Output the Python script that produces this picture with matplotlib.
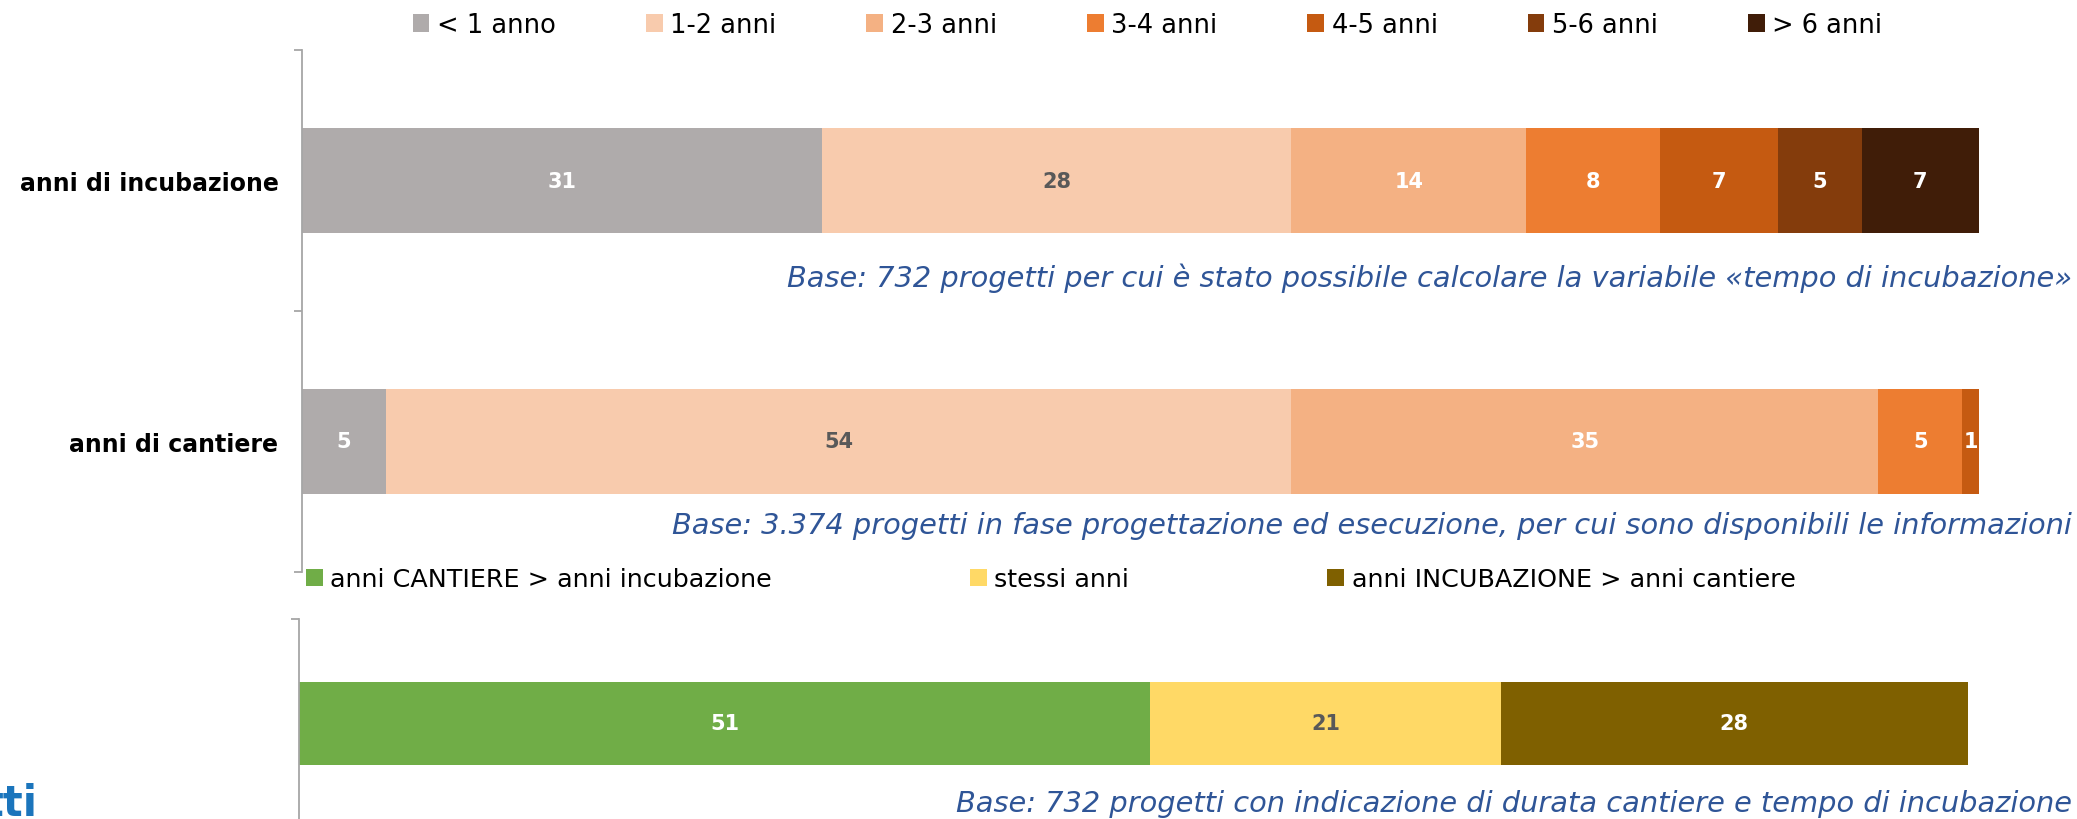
import numpy as np
import matplotlib
matplotlib.use("Agg")
import matplotlib.pyplot as plt

# data
categories = ["anni di incubazione", "anni di cantiere"]
classes = ["< 1 anno", "1-2 anni", "2-3 anni", "3-4 anni", "4-5 anni", "5-6 anni", "> 6 anni"]
incubazione = [31, 28, 14, 8, 7, 5, 7]
cantiere = [5, 54, 35, 5, 1, 0, 0]
class_colors = ["#AFABAB", "#F8CBAD", "#F4B183", "#ED7D31", "#C55A11", "#843C0C", "#401D08"]
class_text = ["white", "#595959", "white", "white", "white", "white", "white"]

confronto_labels = ["anni CANTIERE > anni incubazione", "stessi anni", "anni INCUBAZIONE > anni cantiere"]
confronto = [51, 21, 28]
confronto_colors = ["#70AD47", "#FFD966", "#7F6000"]
confronto_text = ["white", "#595959", "white"]

notes = [
    "Base: 732 progetti per cui è stato possibile calcolare la variabile «tempo di incubazione»",
    "Base: 3.374 progetti in fase progettazione ed esecuzione, per cui sono disponibili le informazioni",
    "Base: 732 progetti con indicazione di durata cantiere e tempo di incubazione",
]

plt.rcParams['font.family'] = ['DejaVu Sans']
W, H = 2077, 820
fig = plt.figure(figsize=(W / 100, H / 100), dpi=100)


def px(x0, y0, x1, y1):
    # pixel box -> figure fraction rect
    return [x0 / W, 1 - y1 / H, (x1 - x0) / W, (y1 - y0) / H]


def style_axis(ax):
    for s in ["top", "right", "bottom"]:
        ax.spines[s].set_visible(False)
    ax.spines["left"].set_color("#A6A6A6")
    ax.spines["left"].set_linewidth(1.3)
    ax.set_xlim(0, 100)
    ax.xaxis.set_visible(False)
    ax.tick_params(axis="y", which="major", length=0, pad=17)
    ax.tick_params(axis="y", which="minor", length=6, width=1.3, color="#A6A6A6")


# top chart: stacked bars by class
ax1 = fig.add_axes(px(302, 51, 1979, 573))
data = np.array([incubazione, cantiere])
starts = np.zeros(len(categories))
ypos = np.arange(len(categories))
for i, (name, col, tc) in enumerate(zip(classes, class_colors, class_text)):
    vals = data[:, i]
    rects = ax1.barh(ypos, vals, left=starts, height=0.4, color=col, label=name)
    labs = [str(v) if v > 0 else "" for v in vals]
    ax1.bar_label(rects, labels=labs, label_type="center", color=tc,
                  fontsize=15, fontweight="bold")
    starts += vals
ax1.set_ylim(1.5, -0.5)
ax1.set_yticks(ypos, categories, fontsize=17, fontweight="bold")
ax1.set_yticks([-0.5, 0.5, 1.5], minor=True)
style_axis(ax1)
ax1.legend(ncol=7, loc="center", bbox_to_anchor=(0.5 * (415 + 1880) / W, 1 - 26 / H),
           bbox_transform=fig.transFigure, frameon=False, fontsize=18.5,
           handlelength=0.65, handleheight=0.65, handletextpad=0.3,
           columnspacing=3.5, borderpad=0, borderaxespad=0)

# bottom chart: comparison
ax2 = fig.add_axes(px(299, 620, 1968, 829))
left = 0
for name, val, col, tc in zip(confronto_labels, confronto, confronto_colors, confronto_text):
    r = ax2.barh([0], [val], left=left, height=0.4, color=col, label=name)
    ax2.bar_label(r, labels=[str(val)], label_type="center", color=tc,
                  fontsize=15, fontweight="bold")
    left += val
ax2.set_ylim(0.5, -0.5)
ax2.set_yticks([])
ax2.set_yticks([-0.5, 0.5], minor=True)
style_axis(ax2)
ax2.legend(ncol=3, loc="center left", bbox_to_anchor=(306 / W, 1 - 580 / H),
           bbox_transform=fig.transFigure, frameon=False, fontsize=18.3,
           handlelength=0.65, handleheight=0.65, handletextpad=0.3,
           columnspacing=7.8, borderpad=0, borderaxespad=0)

# notes
for note, y in zip(notes, [278, 526, 804]):
    fig.text(2072 / W, 1 - y / H, note, ha="right", va="center", fontsize=20.8,
             style="italic", color="#2F5597")

# cut logo fragment on the left edge
fig.text(38 / W, 1 - 816 / H, "tti", ha="right", va="baseline", fontsize=30,
         fontweight="bold", color="#1B75BC")

fig.savefig("out.png", dpi=100)
